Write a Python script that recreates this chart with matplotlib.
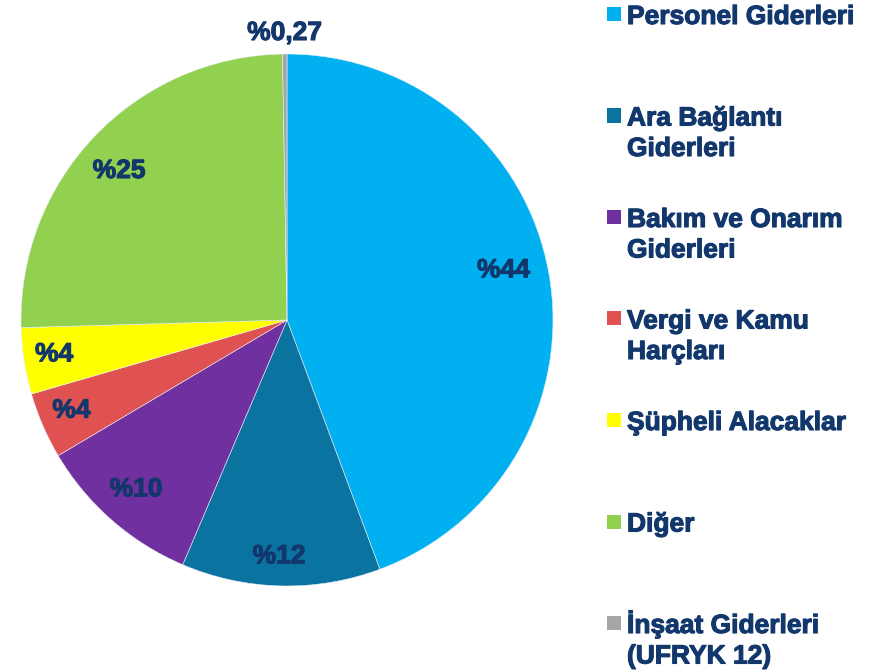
import numpy as np
import matplotlib
matplotlib.use('Agg')
import matplotlib.pyplot as plt
from matplotlib.patches import Rectangle
import matplotlib.patheffects as pe

plt.rcParams['font.family'] = ['Liberation Sans', 'DejaVu Sans']

# data
categories = ['Personel Giderleri', 'Ara Bağlantı\nGiderleri', 'Bakım ve Onarım\nGiderleri',
              'Vergi ve Kamu\nHarçları', 'Şüpheli Alacaklar', 'Diğer',
              'İnşaat Giderleri\n(UFRYK 12)']
values = [44, 12, 10, 4, 4, 25, 0.27]
pct_labels = ['%44', '%12', '%10', '%4', '%4', '%25', '%0,27']
colors = ['#00B0F0', '#0A73A0', '#7030A0', '#E05252', '#FFFF00', '#92D050', '#A6A6A6']

# label placement (radius as fraction, small angle nudge in degrees)
label_r = [0.835, 0.889, 0.853, 0.879, 0.885, 0.844, 1.079]
label_nudge = [2.7, -0.6, -0.5, -0.6, -0.5, 2.1, 0.0]
navy = '#12376C'
thick = [pe.withStroke(linewidth=0.8, foreground=navy)]

W, H = 882, 671
fig = plt.figure(figsize=(W / 100, H / 100), dpi=100)
fig.patch.set_facecolor('white')

cx, cy, R = 287, 320, 266
ax = fig.add_axes([(cx - R) / W, (H - cy - R) / H, 2 * R / W, 2 * R / H])
wedges, _ = ax.pie(values, colors=colors, startangle=90, counterclock=False,
                   radius=1, wedgeprops=dict(linewidth=0.4, edgecolor='#E8EEF5'))
ax.set_xlim(-1, 1)
ax.set_ylim(-1, 1)
ax.set_aspect('equal')

for w, lab, r, d in zip(wedges, pct_labels, label_r, label_nudge):
    ang = np.deg2rad((w.theta1 + w.theta2) / 2 + d)
    ax.text(r * np.cos(ang), r * np.sin(ang), lab, ha='center', va='center',
            fontsize=19, fontweight='bold', color=navy, path_effects=thick)

# legend drawn by hand
x_sq, x_txt = 607, 627
base0, step, line_gap = 24, 101.5, 30.5
for i, (cat, col) in enumerate(zip(categories, colors)):
    base = base0 + i * step
    fig.add_artist(Rectangle((x_sq / W, (H - base + 3) / H), 14 / W, 14 / H,
                             transform=fig.transFigure, facecolor=col, edgecolor='none'))
    for j, line in enumerate(cat.split('\n')):
        fig.text(x_txt / W, (H - base - j * line_gap) / H, line, ha='left', va='baseline',
                 fontsize=19, fontweight='bold', color=navy, path_effects=thick)

fig.savefig('out.png', dpi=100)
